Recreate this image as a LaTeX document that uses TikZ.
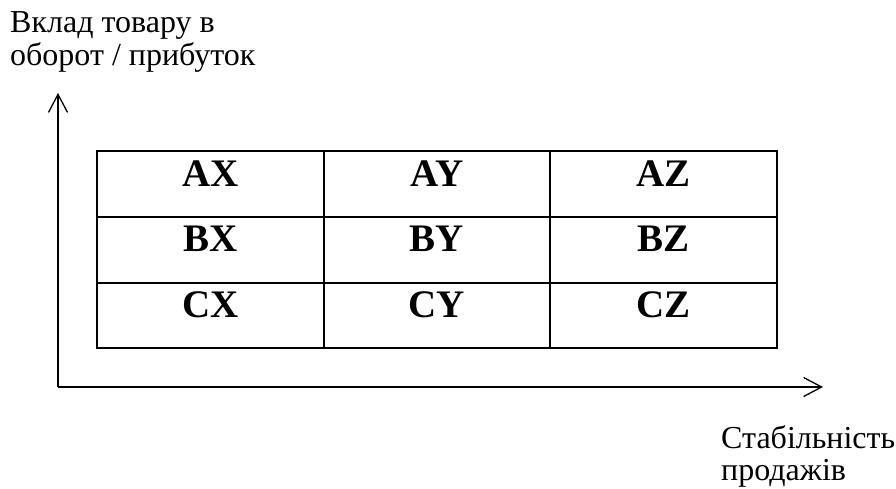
\documentclass[tikz,border=0pt]{standalone}
\usepackage{fontspec}
\setmainfont{Liberation Serif}
\usepackage{tikz}
\usetikzlibrary{positioning, arrows.meta}

\begin{document}
\begin{tikzpicture}[
    x=1pt, y=-1pt, node distance=226.7pt and 65.7pt, on grid,
    axis/.style={line width=1.3pt, -{Straight Barb[length=18pt, width=19pt, line width=1.3pt]}},
    cell/.style={draw, line width=2pt, minimum width=226.7pt, minimum height=65.7pt,
        inner sep=0pt, text height=35pt, text depth=30.7pt, font=\fontsize{39}{42}\selectfont\bfseries},
    caption/.style={align=left, inner sep=0pt, anchor=base west}
]
    \useasboundingbox (0,0) rectangle (896,488);

    % axes
    \coordinate (o) at (58,387);
    \coordinate (ytop) at (58,93);
    \coordinate (xend) at (823,387);
    \draw[axis] (o) -- (ytop);
    \draw[axis] (o) -- (xend);

    % matrix of groups
    \node[cell] (ax) at (210.3,184) {AX};
    \node[cell, right=226.7pt of ax] (ay) {AY};
    \node[cell, right=226.7pt of ay] (az) {AZ};
    \node[cell, below=65.7pt of ax] (bx) {BX};
    \node[cell, right=226.7pt of bx] (by) {BY};
    \node[cell, right=226.7pt of by] (bz) {BZ};
    \node[cell, below=65.7pt of bx] (cx) {CX};
    \node[cell, right=226.7pt of cx] (cy) {CY};
    \node[cell, right=226.7pt of cy] (cz) {CZ};

    % axis captions (anchored at the last line)
    \node[caption, font=\fontsize{32}{33.5}\selectfont] (ylabel) at (10,65.5)
        {Вклад товару в\\оборот / прибуток};
    \node[caption, font=\fontsize{32}{32}\selectfont] (xlabel) at (721,480)
        {Стабільність\\продажів};
\end{tikzpicture}
\end{document}
